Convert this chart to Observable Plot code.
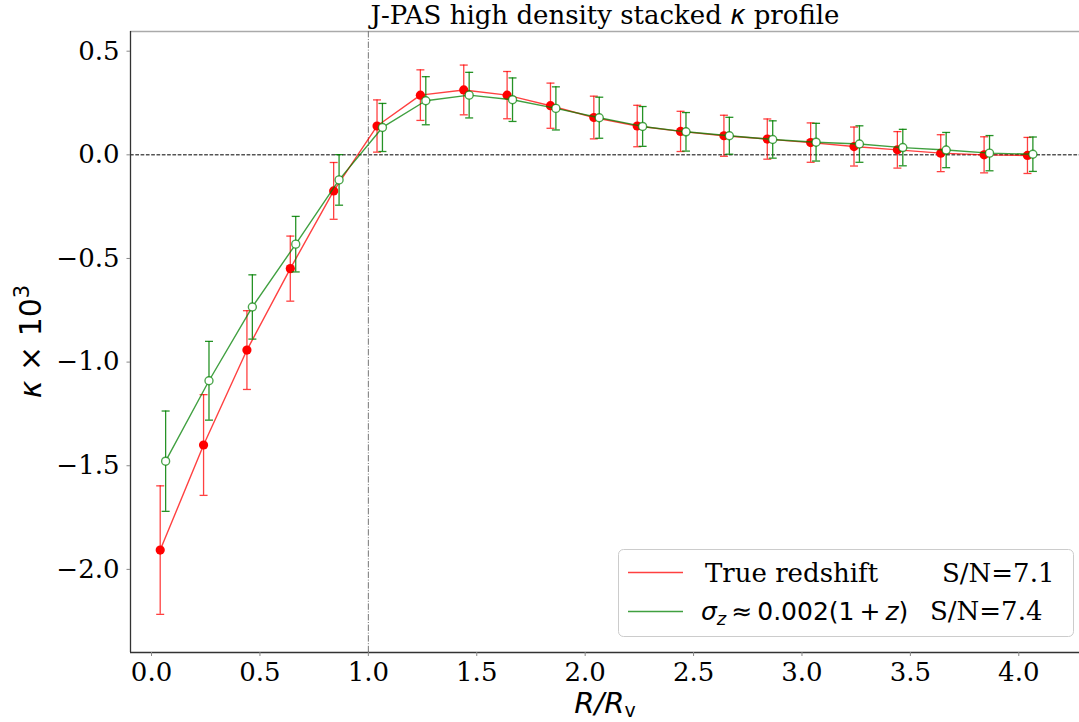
<!DOCTYPE html>
<html>
<head>
<meta charset="utf-8">
<script src="https://cdn.jsdelivr.net/npm/d3@7"></script>
<script src="https://cdn.jsdelivr.net/npm/@observablehq/plot@0.6"></script>
<style>
  html, body { margin: 0; padding: 0; background: white; }
  #chart { width: 1079px; height: 722px; }
</style>
</head>
<body>
<div id="chart"></div>
<script>
// ---- data ----
const xTrue = [0.04, 0.24, 0.44, 0.64, 0.84, 1.04, 1.24, 1.44, 1.64, 1.84, 2.04, 2.24, 2.44, 2.64, 2.84, 3.04, 3.24, 3.44, 3.64, 3.84, 4.04];
const kTrue = [-1.907, -1.400, -0.942, -0.549, -0.174, 0.139, 0.288, 0.313, 0.288, 0.237, 0.180, 0.139, 0.113, 0.092, 0.076, 0.059, 0.040, 0.024, 0.008, 0.000, -0.003];
const eTrue = [0.310, 0.243, 0.190, 0.157, 0.137, 0.126, 0.122, 0.120, 0.114, 0.109, 0.103, 0.100, 0.097, 0.099, 0.097, 0.095, 0.094, 0.088, 0.089, 0.087, 0.087];

const xPhot = [0.065, 0.265, 0.465, 0.665, 0.865, 1.065, 1.265, 1.465, 1.665, 1.865, 2.065, 2.265, 2.465, 2.665, 2.865, 3.065, 3.265, 3.465, 3.665, 3.865, 4.065];
const kPhot = [-1.478, -1.090, -0.734, -0.431, -0.121, 0.132, 0.261, 0.288, 0.266, 0.224, 0.179, 0.137, 0.111, 0.092, 0.074, 0.061, 0.052, 0.035, 0.023, 0.008, 0.003];
const ePhot = [0.242, 0.190, 0.155, 0.134, 0.122, 0.116, 0.116, 0.110, 0.105, 0.104, 0.099, 0.096, 0.093, 0.089, 0.090, 0.091, 0.088, 0.088, 0.085, 0.085, 0.083];

const xTicks = [0.0, 0.5, 1.0, 1.5, 2.0, 2.5, 3.0, 3.5, 4.0];
const yTicks = [-2.0, -1.5, -1.0, -0.5, 0.0, 0.5];
const xDomain = [-0.097, 4.28];
const yDomain = [-2.401, 0.595];
const vLineAt = [1.0];
const hLineAt = [0.0];

const seriesNames = ["True redshift", "σz ≈ 0.002(1 + z)"];
const snValues = ["S/N=7.1", "S/N=7.4"];
const titleText = "J-PAS high density stacked κ profile";

const trueRows = xTrue.map((x, i) => ({x, k: kTrue[i], lo: kTrue[i] - eTrue[i], hi: kTrue[i] + eTrue[i]}));
const photRows = xPhot.map((x, i) => ({x, k: kPhot[i], lo: kPhot[i] - ePhot[i], hi: kPhot[i] + ePhot[i]}));

// horizontal cap symbol for error bars
const capSymbol = {
  draw(context, size) {
    const r = Math.sqrt(size / Math.PI);
    context.moveTo(-r, 0);
    context.lineTo(r, 0);
  }
};

const fmt = d => (d < 0 ? "\u2212" : "") + Math.abs(d).toFixed(1);
const RED = "red", GREEN = "green";

const svg = Plot.plot({
  width: 1079,
  height: 722,
  marginLeft: 130,
  marginRight: 0,
  marginTop: 31,
  marginBottom: 70,
  style: {fontFamily: "DejaVu Serif", background: "white", color: "black"},
  x: {domain: xDomain, label: null},
  y: {domain: yDomain, label: null},
  marks: [
    // top spine
    Plot.ruleY([yDomain[1]], {stroke: "#aaa", strokeWidth: 1.6}),
    // reference lines
    Plot.ruleY(hLineAt, {stroke: "black", strokeWidth: 1, strokeDasharray: "3.7,1.6"}),
    Plot.ruleX(vLineAt, {stroke: "#777", strokeWidth: 1, strokeDasharray: "6.4,1.6,1,1.6"}),
    // true redshift series
    Plot.ruleX(trueRows, {x: "x", y1: "lo", y2: "hi", stroke: RED, strokeOpacity: 0.75, strokeWidth: 1.3}),
    Plot.dot(trueRows, {x: "x", y: "lo", symbol: capSymbol, r: 4, stroke: RED, strokeOpacity: 0.75, strokeWidth: 1.3, fill: "none"}),
    Plot.dot(trueRows, {x: "x", y: "hi", symbol: capSymbol, r: 4, stroke: RED, strokeOpacity: 0.75, strokeWidth: 1.3, fill: "none"}),
    Plot.line(trueRows, {x: "x", y: "k", stroke: RED, strokeOpacity: 0.75, strokeWidth: 1.4}),
    Plot.dot(trueRows, {x: "x", y: "k", r: 4.6, fill: RED, stroke: "none"}),
    // photo-z series
    Plot.ruleX(photRows, {x: "x", y1: "lo", y2: "hi", stroke: GREEN, strokeOpacity: 0.85, strokeWidth: 1.3}),
    Plot.dot(photRows, {x: "x", y: "lo", symbol: capSymbol, r: 4, stroke: GREEN, strokeOpacity: 0.85, strokeWidth: 1.3, fill: "none"}),
    Plot.dot(photRows, {x: "x", y: "hi", symbol: capSymbol, r: 4, stroke: GREEN, strokeOpacity: 0.85, strokeWidth: 1.3, fill: "none"}),
    Plot.line(photRows, {x: "x", y: "k", stroke: GREEN, strokeOpacity: 0.75, strokeWidth: 1.4}),
    Plot.dot(photRows, {x: "x", y: "k", r: 4, fill: "white", stroke: GREEN, strokeOpacity: 0.7, strokeWidth: 1.4}),
    // axes
    Plot.ruleX([xDomain[0]], {stroke: "#333", strokeWidth: 1.3}),
    Plot.ruleY([yDomain[0]], {stroke: "#333", strokeWidth: 1.3}),
    Plot.axisX({ticks: xTicks, tickFormat: fmt, tickSize: 4, tickPadding: 6, fontSize: 26, stroke: "#888", fill: "black", label: null}),
    Plot.axisY({ticks: yTicks, tickFormat: fmt, tickSize: 3.5, tickPadding: 7.5, fontSize: 26, stroke: "#888", fill: "black", label: null})
  ]
});

document.getElementById("chart").appendChild(svg);

const s = d3.select(svg);
const SANS = "DejaVu Sans";
const SERIF = "DejaVu Serif";

// title
const t = s.append("text").attr("x", 605).attr("y", 24).attr("text-anchor", "middle")
  .attr("font-family", SERIF).attr("font-size", 26).attr("fill", "black");
const parts = titleText.split("κ");
t.append("tspan").text(parts[0]);
t.append("tspan").attr("font-family", SANS).attr("font-style", "italic").text("κ");
t.append("tspan").text(parts[1]);

// x label
const xl = s.append("text").attr("x", 605).attr("y", 713).attr("text-anchor", "middle")
  .attr("font-family", SANS).attr("font-size", 29).attr("fill", "black");
xl.append("tspan").attr("font-style", "italic").text("R/R");
xl.append("tspan").attr("font-size", 19).attr("dy", 4).text("v");

// y label
const yl = s.append("text").attr("transform", "translate(41,341.5) rotate(-90)").attr("text-anchor", "middle")
  .attr("font-family", SANS).attr("font-size", 30).attr("fill", "black");
yl.append("tspan").attr("font-style", "italic").text("κ");
yl.append("tspan").text(" × 10");
yl.append("tspan").attr("font-size", 21).attr("dy", -12).text("3");

// legend
const lg = s.append("g").attr("text-anchor", "start");
lg.append("rect").attr("x", 618.5).attr("y", 549.5).attr("width", 455).attr("height", 87).attr("rx", 5)
  .attr("fill", "white").attr("fill-opacity", 0.8).attr("stroke", "#ccc").attr("stroke-width", 1);
lg.append("line").attr("x1", 628).attr("x2", 683).attr("y1", 572.5).attr("y2", 572.5)
  .attr("stroke", RED).attr("stroke-opacity", 0.75).attr("stroke-width", 1.4);
lg.append("line").attr("x1", 628).attr("x2", 683).attr("y1", 611.5).attr("y2", 611.5)
  .attr("stroke", GREEN).attr("stroke-opacity", 0.75).attr("stroke-width", 1.4);
lg.append("text").attr("text-anchor", "start").attr("x", 705).attr("y", 582).attr("font-family", SERIF).attr("font-size", 26)
  .attr("fill", "black").text(seriesNames[0]);
lg.append("text").attr("text-anchor", "start").attr("x", 942).attr("y", 582).attr("font-family", SERIF).attr("font-size", 26)
  .attr("fill", "black").text(snValues[0]);
const r2 = lg.append("text").attr("text-anchor", "start").attr("x", 701).attr("y", 620).attr("font-family", SANS).attr("font-size", 25).attr("fill", "black");
r2.append("tspan").attr("font-style", "italic").text("σ");
r2.append("tspan").attr("font-style", "italic").attr("font-size", 18).attr("dy", 5).text("z");
r2.append("tspan").attr("dy", -5).text("\u2009≈\u20090.002(1\u2009+\u2009");
r2.append("tspan").attr("font-style", "italic").text("z");
r2.append("tspan").text(")");
lg.append("text").attr("text-anchor", "start").attr("x", 930).attr("y", 620).attr("font-family", SERIF).attr("font-size", 26)
  .attr("fill", "black").text(snValues[1]);
</script>
</body>
</html>
